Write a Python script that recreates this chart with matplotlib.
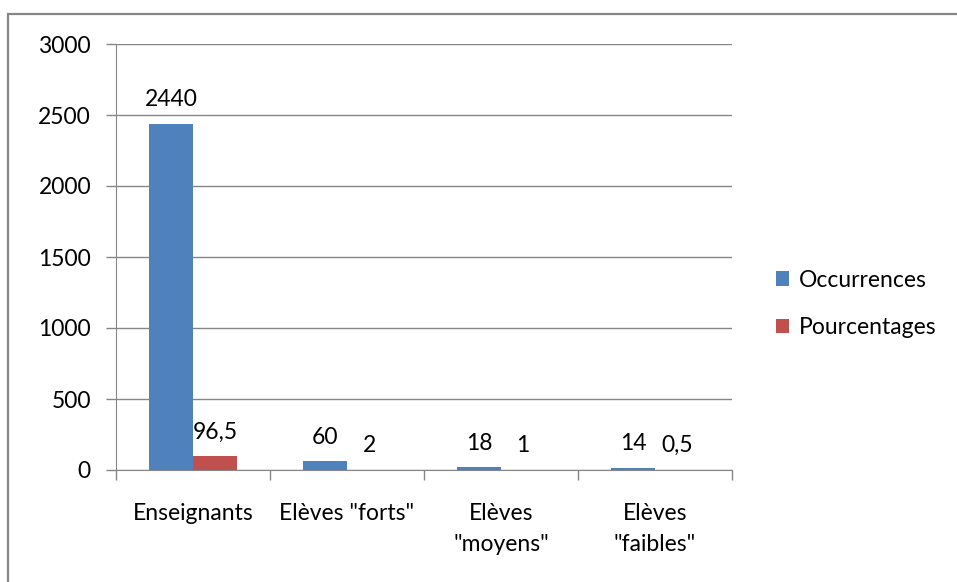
import numpy as np
import matplotlib.pyplot as plt
from matplotlib.patches import Rectangle

categories = ["Enseignants", "Elèves \"forts\"", "Elèves\n\"moyens\"", "Elèves\n\"faibles\""]
occurrences = [2440, 60, 18, 14]
pourcentages = [96.5, 2, 1, 0.5]
series_names = ["Occurrences", "Pourcentages"]
colors = ["#4F81BD", "#C0504D"]
grey = "#868686"

plt.rcParams['font.family'] = ['Lato', 'DejaVu Sans']
plt.rcParams['font.size'] = 16.5

fig = plt.figure(figsize=(9.57, 5.82), dpi=100)
ax = fig.add_axes([116 / 957, 1 - 470 / 582, 616 / 957, 426 / 582])

# outer frame of the chart object
fig.patches.append(Rectangle((8 / 957, -0.1), 1.2, 1 - 14 / 582 + 0.1,
                             transform=fig.transFigure, fill=False,
                             edgecolor=grey, linewidth=1.6))

x = np.arange(len(categories))
w = 1 / 3.5
b1 = ax.bar(x - w / 2, occurrences, w, color=colors[0], label=series_names[0], zorder=3)
b2 = ax.bar(x + w / 2, pourcentages, w, color=colors[1], label=series_names[1], zorder=3)

ax.bar_label(b1, labels=[f"{v:g}".replace('.', ',') for v in occurrences], padding=10)
ax.bar_label(b2, labels=[f"{v:g}".replace('.', ',') for v in pourcentages], padding=10)

ax.set_xlim(-0.5, len(categories) - 0.5)
ax.set_ylim(0, 3000)
ax.set_yticks(np.arange(0, 3001, 500))
ax.yaxis.grid(True, color=grey, linewidth=1, zorder=0)
ax.set_axisbelow(True)

ax.set_xticks(x)
ax.set_xticklabels(categories, linespacing=1.55)
ax.set_xticks(np.arange(-0.5, len(categories), 1), minor=True)
ax.tick_params(axis='x', which='major', length=0, pad=24)
ax.tick_params(axis='x', which='minor', length=7, color=grey, width=1)
ax.tick_params(axis='y', length=7, color=grey, width=1, pad=11)

for s in ['top', 'right']:
    ax.spines[s].set_visible(False)
ax.spines['left'].set_color(grey)
ax.spines['bottom'].set_color(grey)

fig.legend(loc='upper left', bbox_to_anchor=(755 / 957, 1 - 249 / 582),
           frameon=False, handlelength=0.6, handleheight=0.6,
           handletextpad=0.4, labelspacing=1.15)

fig.savefig("out.png", dpi=100)
